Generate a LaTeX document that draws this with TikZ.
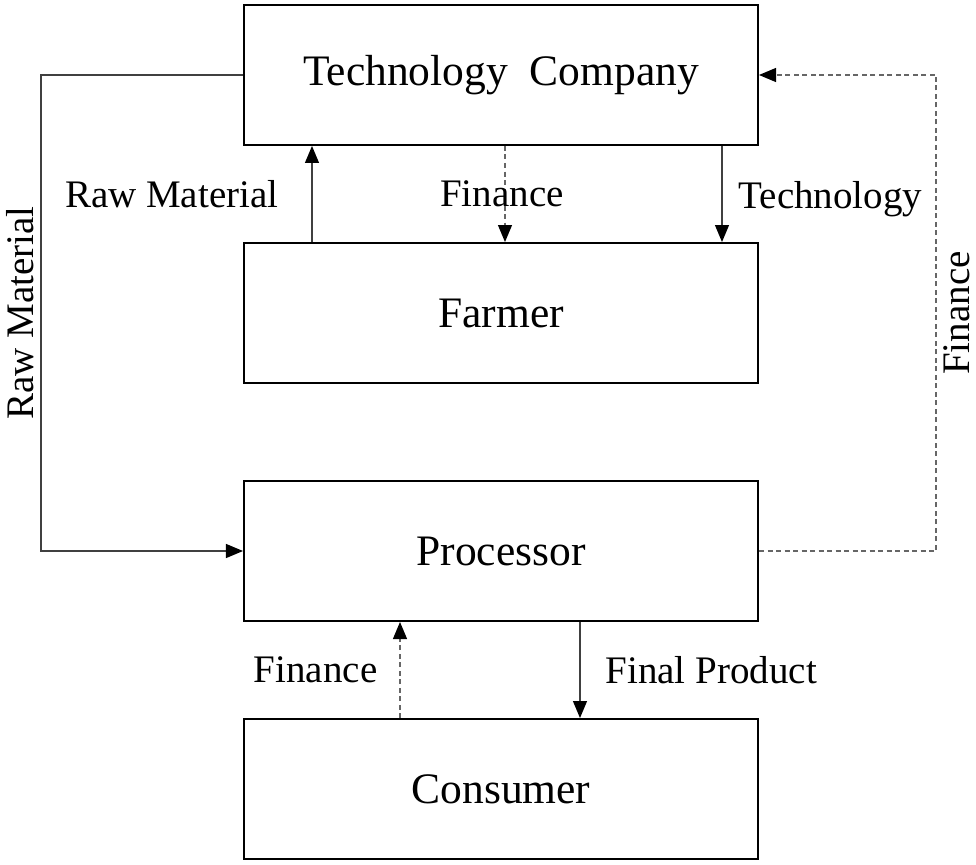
\documentclass[tikz,border=0pt]{standalone}
\usepackage{fontspec}
\setmainfont{Liberation Serif}
\usetikzlibrary{arrows.meta,positioning}

\begin{document}
\begin{tikzpicture}[node distance=238pt,
    box/.style={
        rectangle,
        draw=black, line width=2pt,
        minimum width=514pt,
        minimum height=140pt,
        inner sep=0pt,
        font=\fontsize{43.5}{48}\selectfont},
    arrow/.style={
        line width=1.2pt,
        draw=black!75,
        -{Triangle[length=17pt,width=14pt,color=black]}},
    dasharrow/.style={
        arrow,
        draw=black!60,
        dash pattern=on 5pt off 3.5pt},
    lbl/.style={
        font=\fontsize{39}{44}\selectfont}
    ]

    \useasboundingbox (-501pt,75pt) rectangle (475pt,-789pt);

    \node (tech) [box] {Technology\ \ Company};
    \node (farmer) [box, below of=tech] {Farmer};
    \node (proc) [box, below of=farmer] {Processor};
    \node (consumer) [box, below of=proc] {Consumer};

    \draw [arrow] ([xshift=-189pt]farmer.north) -- node[lbl, left, inner sep=0pt, xshift=-33pt] {Raw Material} ([xshift=-189pt]tech.south);
    \draw [dasharrow] ([xshift=4pt]tech.south) -- node[lbl, xshift=-3pt] {Finance} ([xshift=4pt]farmer.north);
    \draw [arrow] ([xshift=221pt]tech.south) -- node[lbl, right, inner sep=0pt, xshift=16pt, yshift=-5pt] {Technology} ([xshift=221pt]farmer.north);

    \draw [arrow] (tech.west) -- ++(-202pt,0) |- node[lbl, pos=0.25, rotate=90, anchor=south, inner sep=0pt, yshift=7pt] {Raw Material} (proc.west);
    \draw [dasharrow] (proc.east) -- ++(177pt,0) |- node[lbl, pos=0.25, rotate=90, anchor=north, inner sep=0pt, yshift=-7pt] {Finance} (tech.east);

    \draw [dasharrow] ([xshift=-101pt]consumer.north) -- node[lbl, left, inner sep=0pt, xshift=-22pt] {Finance} ([xshift=-101pt]proc.south);
    \draw [arrow] ([xshift=79pt]proc.south) -- node[lbl, right, inner sep=0pt, xshift=25pt] {Final Product} ([xshift=79pt]consumer.north);

\end{tikzpicture}
\end{document}
